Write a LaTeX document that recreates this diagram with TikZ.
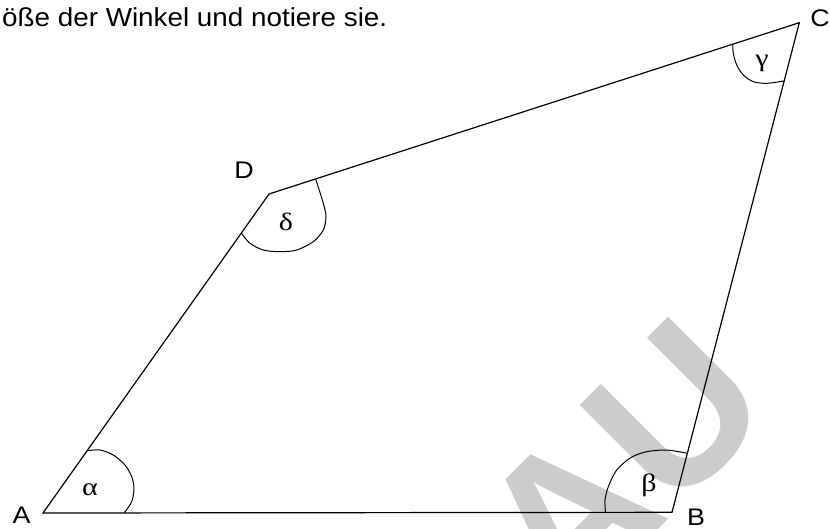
\documentclass[tikz,border=0pt]{standalone}
\usepackage{fontspec}
\setmainfont{Liberation Sans}
\newfontfamily\greekfont{Liberation Serif}
\definecolor{wmgray}{gray}{0.8}
\begin{document}
\begin{tikzpicture}[x=1pt,y=-1pt,
  side/.style={line width=1.2pt, line join=miter},
  anglearc/.style={line width=1pt},
  vlabel/.style={font=\fontsize{24}{24}\selectfont, inner sep=0pt, xscale=1.12},
  glabel/.style={font=\fontsize{25}{25}\selectfont\greekfont, inner sep=0pt, xscale=1.2},
  wmark/.style={font=\fontsize{208}{208}\selectfont\bfseries, text=wmgray, inner sep=0pt, rotate=45, anchor=base east}]
\useasboundingbox (0,0) rectangle (830,528);
\clip (0,0) rectangle (830,528);
% watermark
\node[wmark] (wm) at (779,409) {VORSCHAU};
% title text
\node[font=\fontsize{26}{26}\selectfont, inner sep=0pt, anchor=base west, xscale=1.07] (title) at (2,26.7) {öße der Winkel und notiere sie.};
% vertices
\coordinate (A) at (43,513);
\coordinate (B) at (672,512.3);
\coordinate (C) at (799.3,22.7);
\coordinate (D) at (269,194);
\draw[side] (A) -- (B) -- (C) -- (D) -- cycle;
% angle arcs
\draw[anglearc] plot[smooth] coordinates {(87.4,450.7) (100,450) (113.3,455) (125,465) (131.7,476.7) (134,488.3) (131.7,501.7) (124.3,512.8)};
\draw[anglearc] plot[smooth] coordinates {(605.5,512.3) (605,500) (608.3,486.7) (616.7,470) (631,457.5) (646.7,451.7) (666.7,450) (687.2,453.3)};
\draw[anglearc] plot[smooth] coordinates {(732.7,44) (733.3,53.3) (736.7,65) (743.3,75) (753.3,81.7) (766.7,83.3) (783.8,81)};
\draw[anglearc] plot[smooth] coordinates {(241.5,233.3) (250,243.3) (263.3,250) (280,251.7) (296.7,250) (313.3,241.7) (323.3,230) (326,216.7) (323.3,203.3) (315.7,179)};
% vertex labels
\node[vlabel] (lA) at (21.7,515) {A};
\node[vlabel] (lB) at (696,517) {B};
\node[vlabel] (lC) at (820,18) {C};
\node[vlabel] (lD) at (244,170) {D};
% angle labels
\node[glabel] (la) at (90,490) {α};
\node[glabel] (lb) at (649,485) {β};
\node[glabel] (lg) at (762,63) {γ};
\node[glabel] (ld) at (286,222) {δ};
\end{tikzpicture}
\end{document}
